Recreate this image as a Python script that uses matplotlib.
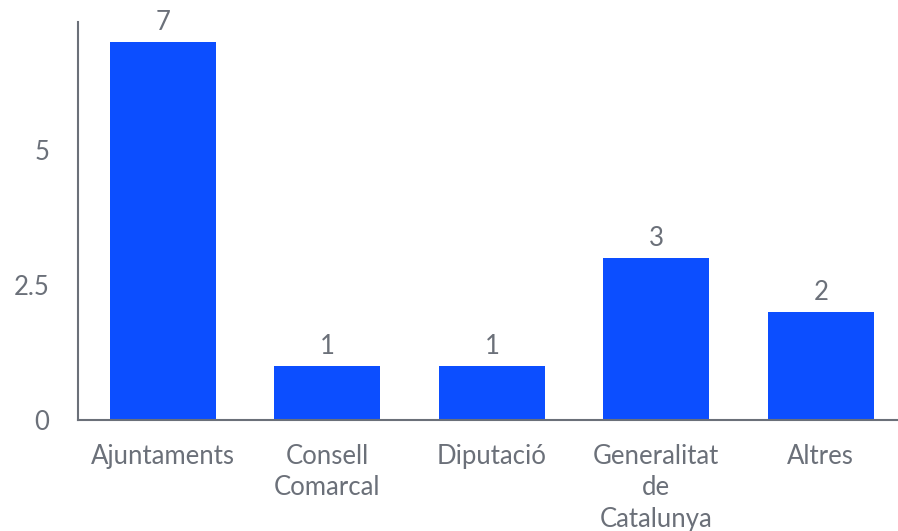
import matplotlib.pyplot as plt

categories = ['Ajuntaments', 'Consell\nComarcal', 'Diputació', 'Generalitat\nde\nCatalunya', 'Altres']
values = [7, 1, 1, 3, 2]
yticks = [0, 2.5, 5]
ytick_labels = ['0', '2.5', '5']

plt.rcParams['font.family'] = ['Lato', 'DejaVu Sans']
text_color = '#6b7079'
bar_color = '#0c4eff'

fig = plt.figure(figsize=(8.98, 5.31), dpi=100)
ax = fig.add_axes([0.0869, 0.209, 0.9131, 0.7495])

x = list(range(len(categories)))
ax.bar(x, values, width=0.645, color=bar_color)

# value labels over bars
for xi, v in zip(x, values):
    ax.text(xi, v + 0.13, str(v), ha='center', va='bottom', fontsize=18.5, color=text_color)

ax.set_xlim(-0.517, 4.47)
ax.set_ylim(0, 7.37)
ax.set_xticks(x)
ax.set_xticklabels(categories, fontsize=18.5, color=text_color, linespacing=1.33, va='top')
ax.set_yticks(yticks)
ax.set_yticklabels(ytick_labels, fontsize=18.5, color=text_color)
ax.tick_params(axis='both', length=0)
ax.tick_params(axis='x', pad=17)
ax.tick_params(axis='y', pad=20.5)

for s in ['top', 'right']:
    ax.spines[s].set_visible(False)
for s in ['left', 'bottom']:
    ax.spines[s].set_color('#6b7079')
    ax.spines[s].set_linewidth(1.5)

fig.savefig('out.png', dpi=100)
